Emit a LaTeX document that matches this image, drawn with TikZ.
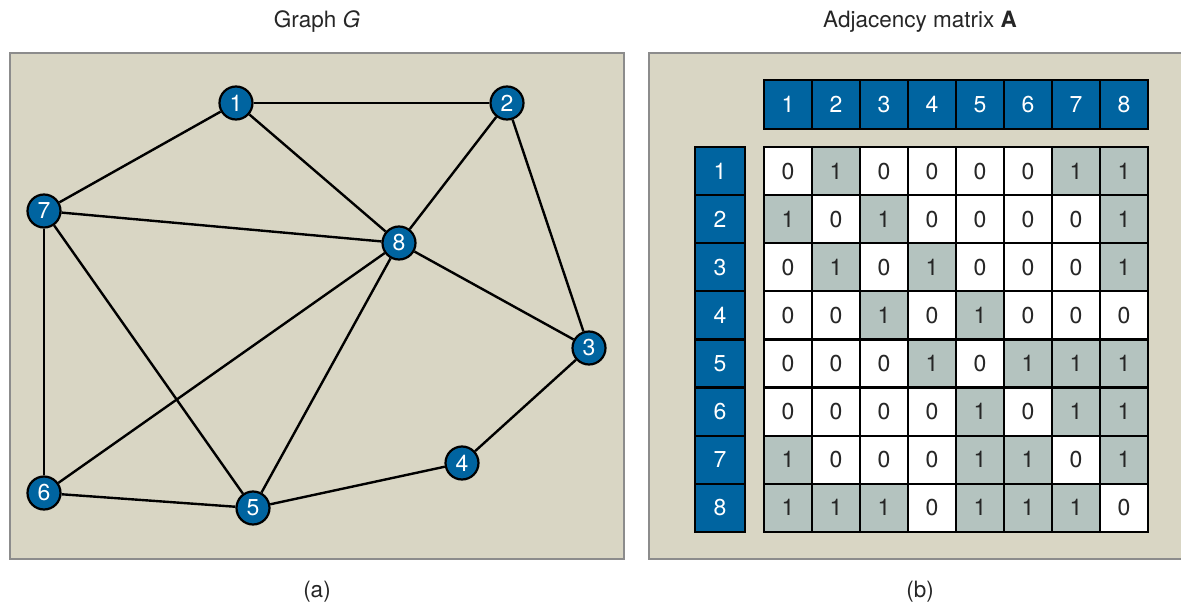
\documentclass[tikz,border=0pt]{standalone}
\usepackage{fontspec}
\setmainfont{TeX Gyre Heros}
\definecolor{panel}{HTML}{D9D6C4}
\definecolor{nodeblue}{HTML}{0064A0}
\definecolor{cellgray}{HTML}{B4C3BF}
\definecolor{framegray}{HTML}{8C8C8C}
\definecolor{digit}{HTML}{262626}
\begin{document}
\begin{tikzpicture}[x=1pt,y=-1pt,
  panelbox/.style={draw=framegray,fill=panel,line width=2.2pt},
  vertex/.style={circle,fill=nodeblue,draw=black,line width=2.2pt,minimum size=33pt,inner sep=0pt,text=white,font=\fontsize{23}{23}\selectfont},
  edge/.style={line width=2.4pt,draw=black},
  cellbase/.style={draw=black,line width=2.2pt,minimum width=48pt,minimum height=48.1pt,inner sep=0pt,font=\fontsize{23}{23}\selectfont},
  cell0/.style={cellbase,fill=white,text=digit},
  cell1/.style={cellbase,fill=cellgray,text=digit},
  hcell/.style={cellbase,fill=nodeblue,text=white},
  title/.style={font=\fontsize{22.5}{22.5}\selectfont,text=digit}]
\useasboundingbox (0,0) rectangle (1181,607);
% panels
\draw[panelbox] (10,53) rectangle (624,559);
\draw[panelbox] (649,53) rectangle (1195,559);
% titles and captions
\node[title] (tg) at (317,22) {Graph \textit{G}};
\node[title] (ta) at (920,22) {Adjacency matrix \textbf{A}};
\node[title] (ca) at (317,592) {(a)};
\node[title] (cb) at (920,592) {(b)};
% graph vertices
\node[vertex] (v1) at (236,103) {1};
\node[vertex] (v2) at (507,103) {2};
\node[vertex] (v3) at (589,348) {3};
\node[vertex] (v4) at (462,463) {4};
\node[vertex] (v5) at (253,508) {5};
\node[vertex] (v6) at (44,493) {6};
\node[vertex] (v7) at (44,211) {7};
\node[vertex] (v8) at (399,243) {8};
% edges
\foreach \a/\b in {1/2,1/7,1/8,2/8,2/3,7/8,7/6,7/5,8/3,8/6,8/5,3/4,4/5,6/5}
  \draw[edge] (v\a) -- (v\b);
% column headers
\foreach \c in {1,...,8}
  \node[hcell,minimum height=49pt] (h-\c) at ({764+48*(\c-0.5)},104.5) {\c};
% row headers
\foreach \r in {1,...,8}
  \node[hcell,minimum width=50pt] (r-\r) at (720,{147+48.1*(\r-0.5)}) {\r};
% matrix
\foreach \row [count=\r] in {{0,1,0,0,0,0,1,1},{1,0,1,0,0,0,0,1},{0,1,0,1,0,0,0,1},{0,0,1,0,1,0,0,0},{0,0,0,1,0,1,1,1},{0,0,0,0,1,0,1,1},{1,0,0,0,1,1,0,1},{1,1,1,0,1,1,1,0}}
  \foreach \v [count=\c] in \row
    \node[cell\v] (m-\r-\c) at ({764+48*(\c-0.5)},{147+48.1*(\r-0.5)}) {\v};
\end{tikzpicture}
\end{document}
